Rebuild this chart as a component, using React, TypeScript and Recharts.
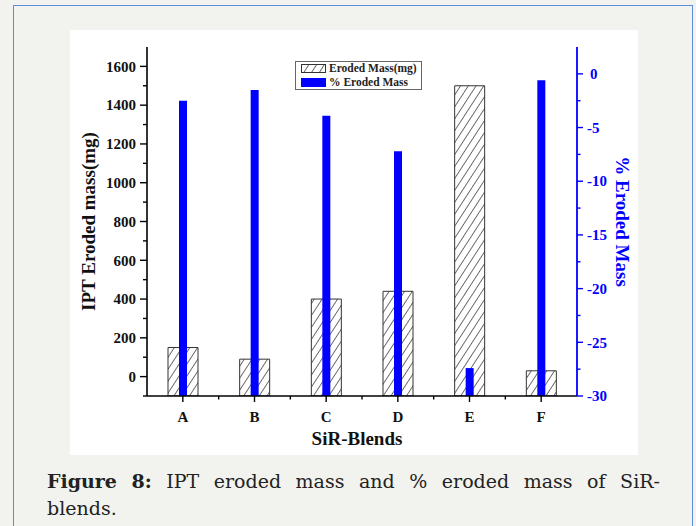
import React from 'react';
import { BarChart, Bar, XAxis, YAxis, Legend } from 'recharts';

// ---- data ----
const blends = ['A', 'B', 'C', 'D', 'E', 'F'];
const erodedMass = [150, 90, 400, 440, 1500, 30];
const pctEroded = [-2.5, -1.5, -3.9, -7.2, -27.4, -0.6];
const leftTicks = [-100, 0, 100, 200, 300, 400, 500, 600, 700, 800, 900, 1000, 1100, 1200, 1300, 1400, 1500, 1600];
const rightTicks = [-30, -27.5, -25, -22.5, -20, -17.5, -15, -12.5, -10, -7.5, -5, -2.5, 0];
const leftDomain: [number, number] = [-100, 1700];
const rightDomain: [number, number] = [-30, 2.5];
const captionWords = ['IPT', 'eroded', 'mass', 'and', '%', 'eroded', 'mass', 'of', 'SiR-'];

const data = blends.map((b, i) => ({ blend: b, mass: erodedMass[i], pct: pctEroded[i] }));

// ---- layout ----
const W = 568;
const H = 425;
const LEFT_W = 77;
const RIGHT_W = 61;
const X_H = 59;
const TOP = 17;
const PLOT_W = W - LEFT_W - RIGHT_W;
const BOTTOM_Y = H - X_H;
const BAND = PLOT_W / blends.length;
const TS = 5;
const TM = 3;
const BLUE = '#0000ff';
const FONT = '"Liberation Serif", "Times New Roman", serif';

const LeftTick = (props: any) => {
  const { y, payload } = props;
  const v = payload.value;
  const ax = LEFT_W;
  const major = v >= 0 && v % 200 === 0;
  return (
    <g>
      <line x1={ax - (major ? 7 : 4)} x2={ax} y1={y} y2={y} stroke="#000" strokeWidth={1.4} />
      {major && (
        <text x={ax - 11} y={y} dy="0.35em" textAnchor="end" fontFamily={FONT} fontWeight="bold" fontSize={15} fill="#111">
          {v}
        </text>
      )}
    </g>
  );
};

const RightTick = (props: any) => {
  const { y, payload } = props;
  const v = payload.value;
  const ax = W - RIGHT_W;
  const major = v % 5 === 0;
  return (
    <g>
      <line x1={ax} x2={ax + (major ? 6 : 3.5)} y1={y} y2={y} stroke={BLUE} strokeWidth={1.4} />
      {major && (
        <text x={v === 0 ? ax + 13 : ax + 10} y={y} dy="0.35em" textAnchor="start" fontFamily={FONT} fontWeight="bold" fontSize={15} fill={BLUE}>
          {v}
        </text>
      )}
    </g>
  );
};

const BottomTick = (props: any) => {
  const { x, payload, index } = props;
  const ay = BOTTOM_Y;
  return (
    <g>
      <line x1={x} x2={x} y1={ay} y2={ay + 6} stroke="#000" strokeWidth={1.4} />
      {index < blends.length - 1 && (
        <line x1={x + BAND / 2} x2={x + BAND / 2} y1={ay} y2={ay + 3.5} stroke="#000" strokeWidth={1.4} />
      )}
      <text x={x} y={ay + 26} textAnchor="middle" fontFamily={FONT} fontWeight="bold" fontSize={15} fill="#111">
        {payload.value}
      </text>
    </g>
  );
};

const TopTick = (props: any) => {
  const { x, index } = props;
  const ay = TOP;
  return (
    <g>
      <line x1={x} x2={x} y1={ay} y2={ay + 6} stroke="#000" strokeWidth={1.4} />
      {index < blends.length - 1 && (
        <line x1={x + BAND / 2} x2={x + BAND / 2} y1={ay} y2={ay + 3.5} stroke="#000" strokeWidth={1.4} />
      )}
    </g>
  );
};

const LeftLabel = () => {
  const cx = 18;
  const cy = TOP + (BOTTOM_Y - TOP) / 2;
  return (
    <text x={cx} y={cy} transform={`rotate(-90 ${cx} ${cy})`} textAnchor="middle" dy="0.35em" fontFamily={FONT} fontWeight="bold" fontSize={19} fill="#111">
      IPT Eroded mass(mg)
    </text>
  );
};

const RightLabel = () => {
  const cx = W - RIGHT_W + 46;
  const cy = TOP + (BOTTOM_Y - TOP) / 2;
  return (
    <text x={cx} y={cy} transform={`rotate(90 ${cx} ${cy})`} textAnchor="middle" dy="0.35em" fontFamily={FONT} fontWeight="bold" fontSize={19} fill={BLUE}>
      % Eroded Mass
    </text>
  );
};

const BottomLabel = () => {
  const cx = LEFT_W + PLOT_W / 2 - 5;
  const cy = BOTTOM_Y + 49;
  return (
    <text x={cx} y={cy} textAnchor="middle" fontFamily={FONT} fontWeight="bold" fontSize={19} fill="#111">
      SiR-Blends
    </text>
  );
};

const LegendBox = () => (
  <div
    style={{
      border: '1px solid #666',
      background: '#fff',
      boxSizing: 'border-box',
      width: 127,
      height: 29,
      padding: '0px 0 0 5px',
      fontFamily: FONT,
      fontWeight: 'bold',
      fontSize: 11.5,
      lineHeight: '13.5px',
      color: '#222',
    }}
  >
    <div style={{ display: 'flex', alignItems: 'center', height: 13.5 }}>
      <svg width={25} height={9} style={{ display: 'block' }}>
        <rect x={0.5} y={0.5} width={24} height={8} fill="url(#hatch)" stroke="#333" strokeWidth={1} />
      </svg>
      <span style={{ marginLeft: 3, whiteSpace: 'nowrap' }}>Eroded Mass(mg)</span>
    </div>
    <div style={{ display: 'flex', alignItems: 'center', height: 13.5 }}>
      <svg width={25} height={9} style={{ display: 'block' }}>
        <rect x={0} y={0} width={25} height={9} fill={BLUE} />
      </svg>
      <span style={{ marginLeft: 3, whiteSpace: 'nowrap' }}>% Eroded Mass</span>
    </div>
  </div>
);

export default function App() {
  return (
    <div
      style={{
        position: 'absolute',
        left: 0,
        top: 0,
        width: 696,
        height: 526,
        overflow: 'hidden',
        background: '#f2f2ee',
      }}
    >
      <svg width={0} height={0} style={{ position: 'absolute' }}>
        <defs>
          <pattern id="hatch" patternUnits="userSpaceOnUse" width={6.5} height={6.5} patternTransform="rotate(33)">
            <rect width={6.5} height={6.5} fill="#fff" />
            <line x1={0} y1={0} x2={0} y2={6.5} stroke="#222" strokeWidth={1.3} />
          </pattern>
        </defs>
      </svg>
      <div
        style={{
          position: 'absolute',
          left: 13,
          top: 5,
          width: 680,
          height: 600,
          border: '1.5px solid #5b8dd9',
          boxSizing: 'border-box',
        }}
      />
      <div style={{ position: 'absolute', left: 70, top: 30, width: W, height: H, background: '#fff' }}>
        <BarChart width={W} height={H} data={data} margin={{ top: TOP, right: 0, bottom: 0, left: 0 }}>
          <XAxis
            xAxisId="main"
            dataKey="blend"
            height={X_H}
            tickSize={TS}
            tickMargin={TM}
            tickLine={false}
            tick={<BottomTick />}
            axisLine={{ stroke: '#000', strokeWidth: 1.6 }}
            interval={0}
            label={<BottomLabel />}
          />
          <XAxis
            xAxisId="top"
            dataKey="blend"
            orientation="top"
            height={0}
            mirror
            tickSize={TS}
            tickMargin={TM}
            tickLine={false}
            tick={<TopTick />}
            axisLine={{ stroke: '#000', strokeWidth: 1.6 }}
            interval={0}
          />
          <XAxis xAxisId="blue" dataKey="blend" orientation="top" height={0} hide />
          <YAxis
            yAxisId="left"
            width={LEFT_W}
            domain={leftDomain}
            ticks={leftTicks}
            allowDataOverflow
            interval={0}
            tickSize={TS}
            tickMargin={TM}
            tickLine={false}
            tick={<LeftTick />}
            axisLine={{ stroke: '#000', strokeWidth: 1.6 }}
            label={<LeftLabel />}
          />
          <YAxis
            yAxisId="right"
            orientation="right"
            width={RIGHT_W}
            domain={rightDomain}
            ticks={rightTicks}
            allowDataOverflow
            interval={0}
            tickSize={TS}
            tickMargin={TM}
            tickLine={false}
            tick={<RightTick />}
            axisLine={{ stroke: BLUE, strokeWidth: 1.8 }}
            label={<RightLabel />}
          />
          <Legend
            layout="vertical"
            verticalAlign="middle"
            align="center"
            wrapperStyle={{ left: 225, top: 31, width: 127, height: 29 }}
            content={<LegendBox />}
          />
          <Bar
            xAxisId="main"
            yAxisId="left"
            dataKey={(d: any) => [leftDomain[0], d.mass]}
            name="Eroded Mass(mg)"
            barSize={30}
            fill="url(#hatch)"
            stroke="#333"
            strokeWidth={1}
            isAnimationActive={false}
          />
          <Bar
            xAxisId="blue"
            yAxisId="right"
            dataKey={(d: any) => [rightDomain[0], d.pct]}
            name="% Eroded Mass"
            barSize={8}
            fill={BLUE}
            isAnimationActive={false}
          />
        </BarChart>
      </div>
      <div
        style={{
          position: 'absolute',
          left: 47,
          top: 468,
          width: 613,
          fontFamily: '"DejaVu Serif", serif',
          fontSize: 19,
          lineHeight: '27px',
          color: '#222',
        }}
      >
        <div style={{ display: 'flex', justifyContent: 'space-between', whiteSpace: 'nowrap' }}>
          <span style={{ fontWeight: 'bold' }}>Figure</span>
          <span style={{ fontWeight: 'bold' }}>8:</span>
          {captionWords.map((w, i) => (
            <span key={i}>{w}</span>
          ))}
        </div>
        <div>blends.</div>
      </div>
    </div>
  );
}
